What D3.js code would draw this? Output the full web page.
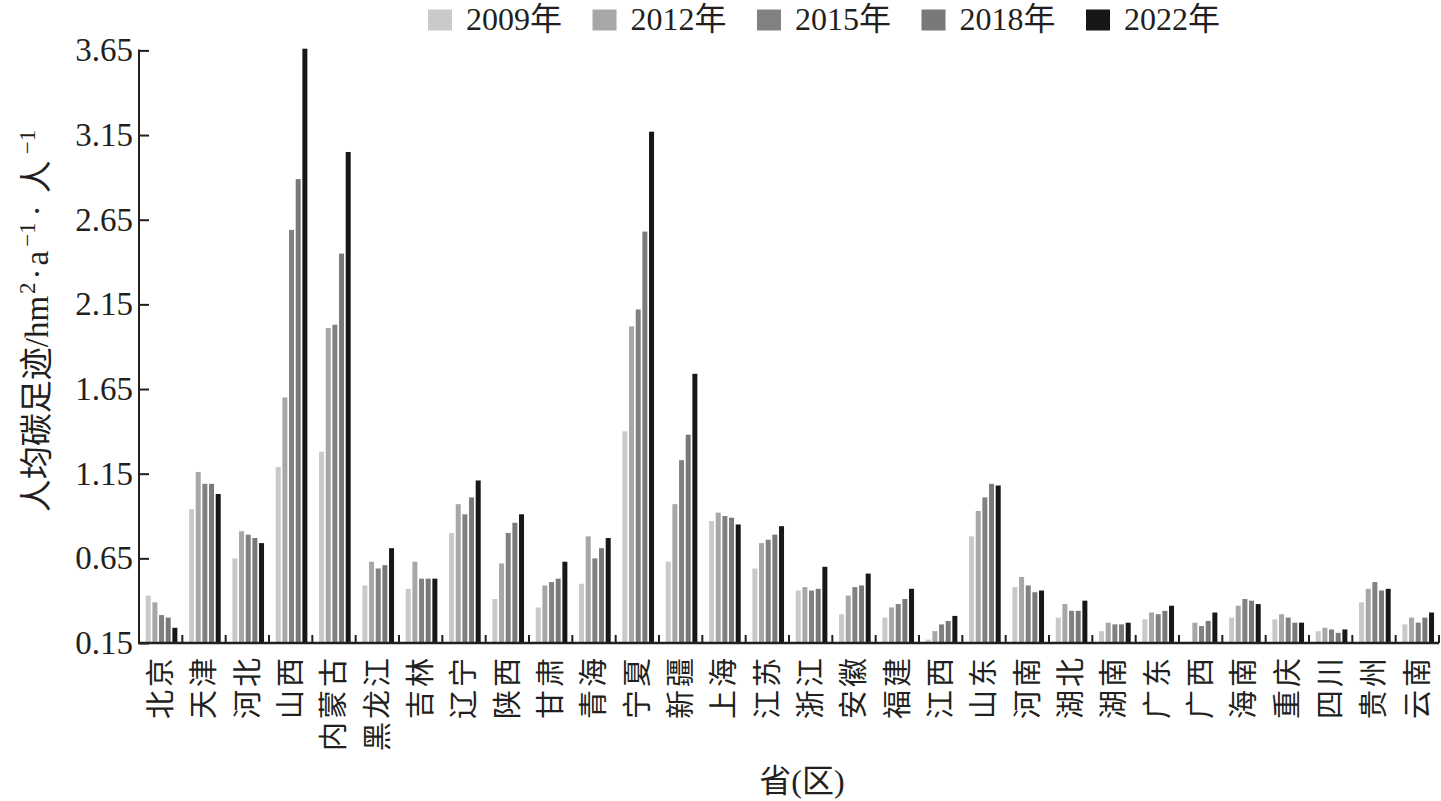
<!DOCTYPE html>
<html>
<head>
<meta charset="utf-8">
<script src="https://cdn.jsdelivr.net/npm/d3@7"></script>
<style>
  body { margin: 0; background: #fff; }
  text { fill: #231f20; }
</style>
</head>
<body>
<div id="viz"></div>
<script>
// provinces (x categories)
const provinces = ['北京', '天津', '河北', '山西', '内蒙古', '黑龙江', '吉林', '辽宁', '陕西', '甘肃',
    '青海', '宁夏', '新疆', '上海', '江苏', '浙江', '安徽', '福建', '江西', '山东',
    '河南', '湖北', '湖南', '广东', '广西', '海南', '重庆', '四川', '贵州', '云南'];

const years = ['2009年', '2012年', '2015年', '2018年', '2022年'];

// per-capita carbon footprint
const v2009 = [0.43, 0.94, 0.65, 1.19, 1.28, 0.49, 0.47, 0.80, 0.41, 0.36, 0.50, 1.40, 0.63, 0.87, 0.59, 0.46, 0.32, 0.30, 0.17, 0.78, 0.48, 0.30, 0.22, 0.29, 0.14, 0.30, 0.29, 0.22, 0.39, 0.26];
const v2012 = [0.39, 1.16, 0.81, 1.60, 2.01, 0.63, 0.63, 0.97, 0.62, 0.49, 0.78, 2.02, 0.97, 0.92, 0.74, 0.48, 0.43, 0.36, 0.22, 0.93, 0.54, 0.38, 0.27, 0.33, 0.27, 0.37, 0.32, 0.24, 0.47, 0.30];
const v2015 = [0.315, 1.09, 0.79, 2.59, 2.03, 0.59, 0.53, 0.91, 0.80, 0.51, 0.65, 2.12, 1.23, 0.90, 0.76, 0.46, 0.48, 0.38, 0.26, 1.01, 0.49, 0.34, 0.26, 0.32, 0.25, 0.41, 0.30, 0.23, 0.51, 0.27];
const v2018 = [0.30, 1.09, 0.77, 2.89, 2.45, 0.61, 0.53, 1.01, 0.86, 0.53, 0.71, 2.58, 1.38, 0.89, 0.79, 0.47, 0.49, 0.41, 0.28, 1.09, 0.45, 0.34, 0.26, 0.34, 0.28, 0.40, 0.27, 0.21, 0.46, 0.30];
const v2022 = [0.24, 1.03, 0.74, 3.66, 3.05, 0.71, 0.53, 1.11, 0.91, 0.63, 0.77, 3.17, 1.74, 0.85, 0.84, 0.60, 0.56, 0.47, 0.31, 1.08, 0.46, 0.40, 0.27, 0.37, 0.33, 0.38, 0.27, 0.23, 0.47, 0.33];

const yTicks = [0.15, 0.65, 1.15, 1.65, 2.15, 2.65, 3.15, 3.65];

const series = [v2009, v2012, v2015, v2018, v2022];
const colors = ['#c9c9c9', '#a7a7a7', '#818184', '#7b7879', '#171717'];

const W = 1441, H = 801;
const mLeft = 139, mRight = 1439, mTop = 50.4, mBottom = 643;
const serif = "'Liberation Serif', 'Noto Sans CJK SC', serif";

let svg = d3.select("#viz")
    .append("svg")
    .attr("width", W)
    .attr("height", H);

let x = d3.scaleBand()
    .domain(provinces)
    .range([mLeft, mRight]);

let x1 = d3.scaleBand()
    .domain(years)
    .range([5.9, 39.2])
    .paddingInner(0.25)
    .paddingOuter(0.125);

let y = d3.scaleLinear()
    .domain([0.15, 3.65])
    .range([mBottom, mTop]);

let color = d3.scaleOrdinal().domain(years).range(colors);

// bars
let rows = provinces.map((p, i) => ({ p: p, vals: years.map((yr, k) => ({ yr: yr, v: series[k][i] })) }));

svg.append("g").selectAll("g")
    .data(rows)
    .join("g")
    .attr("transform", d => "translate(" + x(d.p) + ",0)")
    .selectAll("rect")
    .data(d => d.vals)
    .join("rect")
    .attr("x", d => x1(d.yr))
    .attr("width", x1.bandwidth())
    .attr("y", d => y(Math.max(d.v, 0.15)))
    .attr("height", d => mBottom - y(Math.max(d.v, 0.15)))
    .style("fill", d => color(d.yr));

// y axis
let yAxis = svg.append("g")
    .attr("transform", "translate(" + mLeft + ",0)")
    .call(d3.axisRight(y).tickValues(yTicks).tickSize(10).tickFormat(d3.format(".2f")));
yAxis.select(".domain").attr("stroke", "#231f20").attr("stroke-width", 2).attr("d", "M0," + (mTop - 1) + "V" + mBottom);
yAxis.selectAll(".tick line").attr("stroke", "#231f20").attr("stroke-width", 2);
yAxis.selectAll(".tick text")
    .attr("x", -6)
    .attr("text-anchor", "end")
    .style("font-family", serif)
    .style("font-size", "33px");

// x axis line + small ticks at group boundaries
svg.append("line")
    .attr("x1", mLeft - 1).attr("x2", mRight)
    .attr("y1", mBottom).attr("y2", mBottom)
    .attr("stroke", "#231f20").attr("stroke-width", 2.5);

svg.append("g").selectAll("line")
    .data(provinces)
    .join("line")
    .attr("x1", d => x(d) + x.bandwidth())
    .attr("x2", d => x(d) + x.bandwidth())
    .attr("y1", mBottom)
    .attr("y2", mBottom - 8)
    .attr("stroke", "#231f20")
    .attr("stroke-width", 2);

// province labels, rotated
svg.append("g").selectAll("text")
    .data(provinces)
    .join("text")
    .attr("transform", d => "translate(" + (x(d) + x.bandwidth() / 2) + ",655) rotate(-90)")
    .attr("text-anchor", "end")
    .attr("dy", "0.36em")
    .style("font-family", "'Noto Sans CJK SC', sans-serif")
    .style("font-size", "29px")
    .style("letter-spacing", "3px")
    .text(d => d);

// axis titles
svg.append("text")
    .attr("x", 802)
    .attr("y", 792)
    .attr("text-anchor", "middle")
    .style("font-family", serif)
    .style("font-size", "32px")
    .text("省(区)");

let yt = svg.append("text")
    .attr("transform", "translate(48,321) rotate(-90)")
    .attr("text-anchor", "middle")
    .style("font-family", serif)
    .style("font-size", "33px");
yt.append("tspan").text("人均碳足迹/hm");
yt.append("tspan").attr("dx", 2).attr("dy", -13).style("font-size", "23px").text("2");
yt.append("tspan").attr("dx", 3).attr("dy", 13).text("·");
yt.append("tspan").attr("dx", 3).text("a");
yt.append("tspan").attr("dx", 4).attr("dy", -13).style("font-size", "23px").text("−1");
yt.append("tspan").attr("dx", 6).attr("dy", 13).text("·");
yt.append("tspan").attr("dx", 12).text("人");
yt.append("tspan").attr("dx", 6).attr("dy", -13).style("font-size", "23px").text("−1");

// legend
let legend = svg.append("g").selectAll("g")
    .data(years)
    .join("g")
    .attr("transform", (d, i) => "translate(" + (428 + i * 164.5) + ",0)");

legend.append("rect")
    .attr("y", 9.5)
    .attr("width", 24)
    .attr("height", 21)
    .style("fill", d => color(d));

legend.append("text")
    .attr("x", 38)
    .attr("y", 29.5)
    .style("font-family", serif)
    .style("font-size", "32px")
    .text(d => d);
</script>
</body>
</html>
